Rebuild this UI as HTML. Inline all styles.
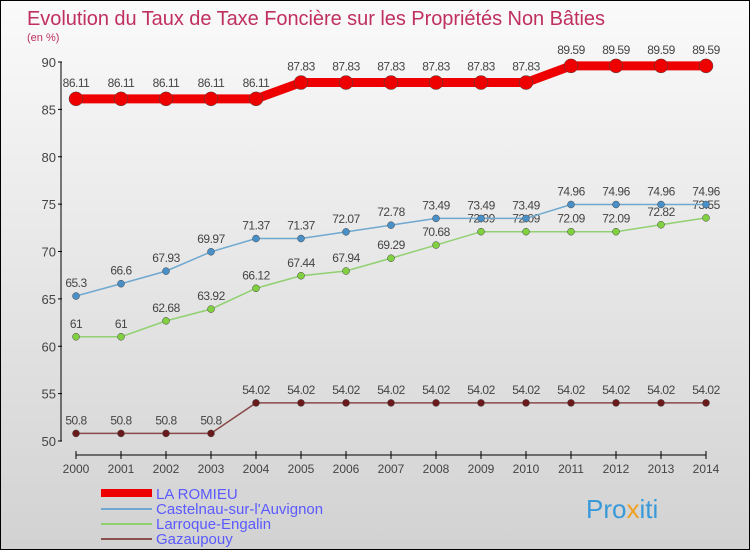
<!DOCTYPE html>
<html><head><meta charset="utf-8"><style>
body{margin:0}
#c{width:750px;height:550px;position:relative;overflow:hidden;box-sizing:border-box;border:1px solid #000;background:linear-gradient(#fafafa,#d2d2d2);font-family:"Liberation Sans",sans-serif}
</style></head><body>
<div id="c">
<svg id="s" width="750" height="550" style="position:absolute;left:0;top:0">
<text x="26" y="24" font-size="20" fill="#c0305f" textLength="578">Evolution du Taux de Taxe Foncière sur les Propriétés Non Bâties</text>
<text x="26" y="40" font-size="11" fill="#c0305f">(en %)</text>
<g id="g"></g>
<g>
<rect x="100" y="488" width="51" height="8" fill="#e00"/>
<text x="155" y="498" font-size="15" fill="#5a5aff">LA ROMIEU</text>
<line x1="100" y1="508" x2="151" y2="508" stroke="#6fa8d0" stroke-width="2"/>
<text x="155" y="513" font-size="15" fill="#5a5aff">Castelnau-sur-l'Auvignon</text>
<line x1="100" y1="523" x2="151" y2="523" stroke="#90d070" stroke-width="2"/>
<text x="155" y="528" font-size="15" fill="#5a5aff">Larroque-Engalin</text>
<line x1="100" y1="538" x2="151" y2="538" stroke="#8a5050" stroke-width="2"/>
<text x="155" y="543" font-size="15" fill="#5a5aff">Gazaupouy</text>
</g>
<text x="585" y="517" font-size="26" fill="#3a9ad9">Pro<tspan fill="#f0a020">x</tspan>iti</text>
</svg>
</div>
<script>
const years=[2000,2001,2002,2003,2004,2005,2006,2007,2008,2009,2010,2011,2012,2013,2014];
const laRomieu=[86.11,86.11,86.11,86.11,86.11,87.83,87.83,87.83,87.83,87.83,87.83,89.59,89.59,89.59,89.59];
const castelnau=[65.3,66.6,67.93,69.97,71.37,71.37,72.07,72.78,73.49,73.49,73.49,74.96,74.96,74.96,74.96];
const larroque=[61,61,62.68,63.92,66.12,67.44,67.94,69.29,70.68,72.09,72.09,72.09,72.09,72.82,73.55];
const gazaupouy=[50.8,50.8,50.8,50.8,54.02,54.02,54.02,54.02,54.02,54.02,54.02,54.02,54.02,54.02,54.02];
const yTicks=[50,55,60,65,70,75,80,85,90];
const NS="http://www.w3.org/2000/svg";
const g=document.getElementById('g');
const xS=i=>75+i*45;
const yS=v=>440-(v-50)*9.475;
function mk(t,a){const e=document.createElementNS(NS,t);for(const k in a)e.setAttribute(k,a[k]);g.appendChild(e);return e;}
let ax=mk('line',{x1:60,y1:yS(90),x2:60,y2:440,stroke:'#000'});


let bx=mk('line',{x1:75,y1:454,x2:705,y2:454,stroke:'#000'});


yTicks.forEach(v=>{
 mk('line',{x1:57,y1:yS(v),x2:61,y2:yS(v),stroke:'#000'});
 let t=mk('text',{x:55,y:yS(v)+5,'font-size':13,fill:'#444','text-anchor':'end'});t.textContent=v;
 
 
});
years.forEach((y,i)=>{
 mk('line',{x1:xS(i),y1:450,x2:xS(i),y2:458,stroke:'#000'});
 let t=mk('text',{x:xS(i),y:472,'font-size':12,fill:'#444','text-anchor':'middle'});t.textContent=y;
 
 
});
function series(d,name,col,w,r,dot,lab){
 let p=mk('polyline',{points:d.map((v,i)=>xS(i)+','+yS(v)).join(' '),fill:'none',stroke:col,'stroke-width':w});
 
 
 d.forEach((v,i)=>{
  let c=mk('circle',{cx:xS(i),cy:yS(v),r:r,fill:dot,stroke:'#444','stroke-width':0.5});
  
  
  let t=mk('text',{x:xS(i),y:yS(v)-lab,'font-size':12,fill:'#444','text-anchor':'middle','letter-spacing':'-0.5'});t.textContent=v;
  
  
 });
}
series(gazaupouy,'gazaupouy','#8a4a4a',1.5,3.5,'#6a1a1a',9);
series(larroque,'larroque','#90d070',1.5,3.5,'#80d040',9);
series(castelnau,'castelnau','#6fa8d0',1.5,3.5,'#4a90c8',9);
series(laRomieu,'la-romieu','#e00',9,7,'#e00',12);
</script>
</body></html>
